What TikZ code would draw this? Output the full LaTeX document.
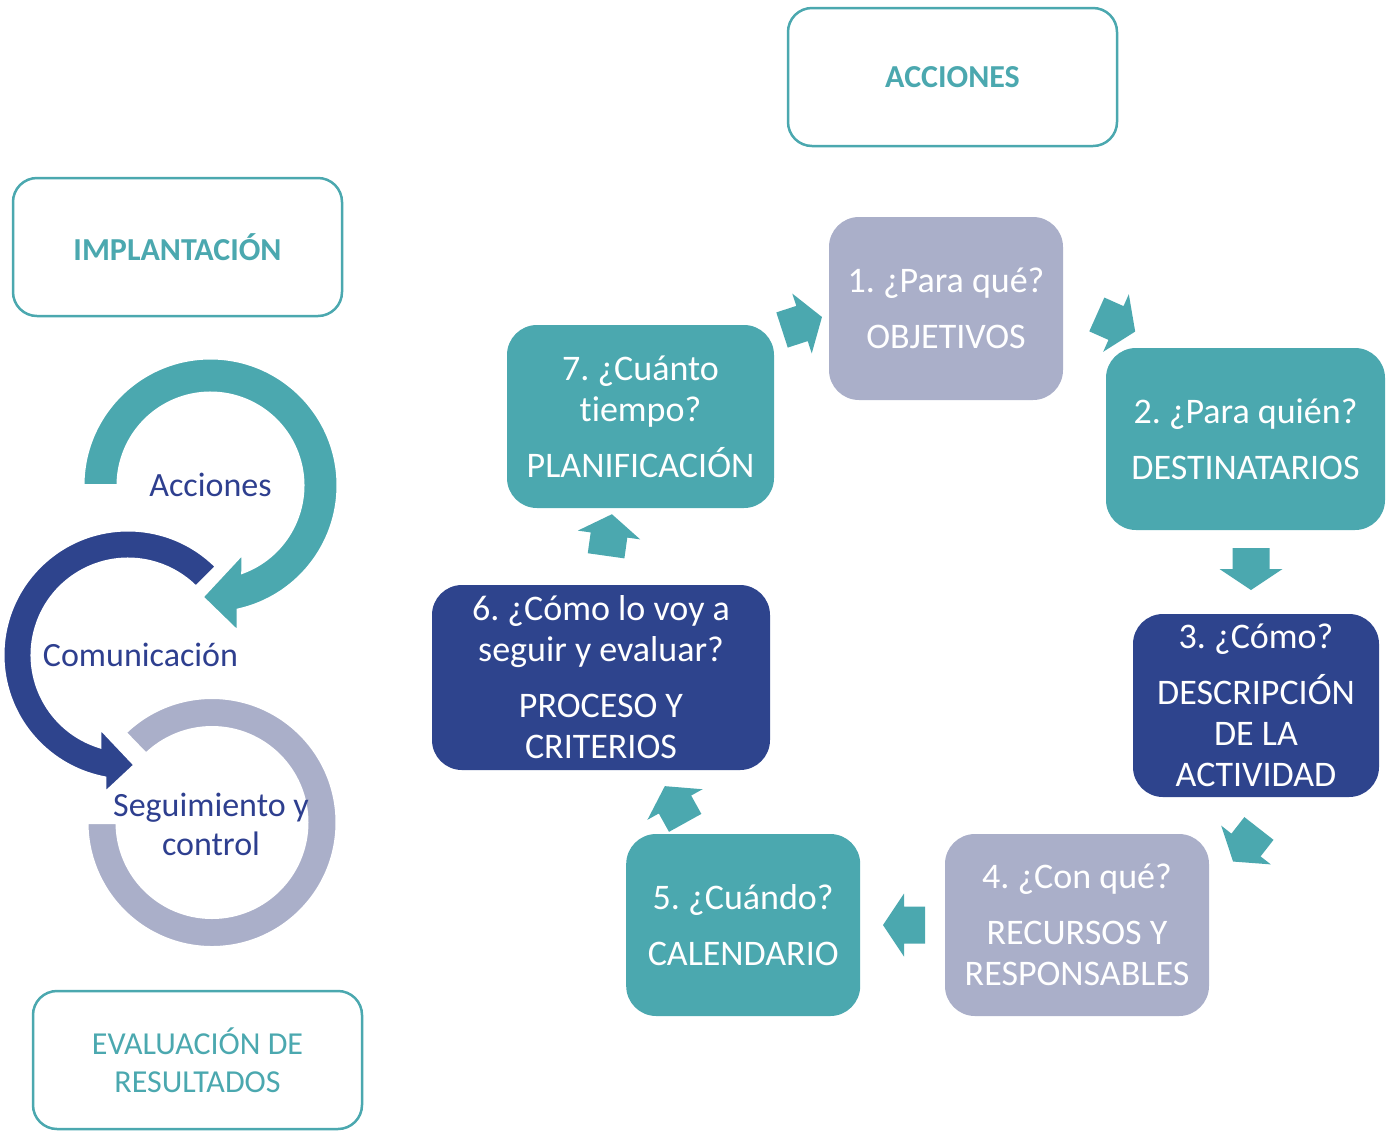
\documentclass[tikz,border=0pt]{standalone}
\usepackage{fontspec}
\setmainfont{Carlito}[Ligatures=NoCommon]
\usetikzlibrary{positioning}
\frenchspacing

\definecolor{tealc}{HTML}{4BA8AF}
\definecolor{lavc}{HTML}{AAAFC9}
\definecolor{navyc}{HTML}{2E448D}
\definecolor{labc}{HTML}{2E3F8F}

\begin{document}
\begin{tikzpicture}
            [x=0.5pt, y=0.5pt,
            procbox/.style={
                rounded corners=15pt,
                align=center,
                text=white,
                inner sep=0pt,
                font=\fontsize{18}{20.5}\selectfont
            },
            tealbox/.style={procbox, fill=tealc},
            lavbox/.style={procbox, fill=lavc},
            navybox/.style={procbox, fill=navyc},
            headbox/.style={
                draw=tealc,
                line width=1.25pt,
                rounded corners=12pt,
                text=tealc,
                align=center,
                minimum width=164.5pt,
                minimum height=69pt,
                font=\fontsize{16}{19}\selectfont
            },
            ring/.style={draw=white, line width=1.5pt},
            ringlabel/.style={text=labc, align=center, font=\fontsize{17}{19.5}\selectfont},
            blockarrow/.pic={
                \fill[tealc] (-21,-18.5) -- (0,-18.5) -- (0,-31.5) -- (21,0)
                    -- (0,31.5) -- (0,18.5) -- (-21,18.5) -- cycle;
            }
            ]
            \useasboundingbox (0,0) rectangle (1393,-1131);

            % Header boxes
            \node[headbox, font=\fontsize{16}{19}\selectfont\bfseries] (acciones) at (952.5,-77) {ACCIONES};
            \node[headbox, font=\fontsize{16}{19}\selectfont\bfseries] (implant) at (177.5,-247) {IMPLANTACIÓN};
            \node[headbox] (evalres) at (197.5,-1060) {EVALUACIÓN DE\\RESULTADOS};

            % Cycle of questions
            \node[lavbox, minimum width=117pt, minimum height=91.5pt] (obj) at (946,-308.5)
                {1. ¿Para qué?\\[7.5pt]OBJETIVOS};
            \node[tealbox, minimum width=139.5pt, minimum height=91pt] (dest) at (1245.5,-439)
                {2. ¿Para quién?\\[7.5pt]DESTINATARIOS};
            \node[navybox, minimum width=123pt, minimum height=91.5pt] (desc) at (1256,-705.5)
                {3. ¿Cómo?\\[7.5pt]DESCRIPCIÓN\\DE LA\\ACTIVIDAD};
            \node[lavbox, minimum width=132pt, minimum height=91pt] (recur) at (1077,-925)
                {4. ¿Con qué?\\[7.5pt]RECURSOS Y\\RESPONSABLES};
            \node[tealbox, minimum width=117pt, minimum height=91pt, left=42pt of recur] (calen)
                {5. ¿Cuándo?\\[7.5pt]CALENDARIO};
            \node[navybox, minimum width=169pt, minimum height=92.5pt] (proc) at (601,-677.5)
                {6. ¿Cómo lo voy a\\seguir y evaluar?\\[7.5pt]PROCESO Y\\CRITERIOS};
            \node[tealbox, minimum width=133.5pt, minimum height=91.5pt] (plan) at (640.5,-416.5)
                {7. ¿Cuánto\\tiempo?\\[7.5pt]PLANIFICACIÓN};

            % Block arrows between the boxes
            \foreach \x/\y/\ang in {802/-323.5/18, 1116/-323/-24, 1251/-569/-90, 1246/-845/232,
                                    904/-925/180, 675/-804.5/119, 609/-535/82}{
                \pic[rotate=\ang] at (\x,\y) {blockarrow};
            }

            % Circular arrows
            \coordinate (cseg) at (212,-822.5);
            \coordinate (ccom) at (128,-655);
            \coordinate (cacc) at (210.5,-485.5);

            \filldraw[ring, fill=lavc] ([shift={(cseg)}]134:125) arc[start angle=134, end angle=-180, radius=125]
                -- ([shift={(cseg)}]180:95) arc[start angle=-180, end angle=134, radius=95] -- cycle;
            \filldraw[ring, fill=navyc] ([shift={(ccom)}]45:125) arc[start angle=45, end angle=259.3, radius=125]
                -- (105,-793) -- (135,-765) -- (100,-728)
                -- ([shift={(ccom)}]253:96) arc[start angle=253, end angle=45, radius=96] -- cycle;
            \filldraw[ring, fill=tealc] ([shift={(cacc)}]180:127.5) arc[start angle=180, end angle=-77.5, radius=127.5]
                -- (238,-632) -- (202,-597) -- (243,-553)
                -- ([shift={(cacc)}]-69.6:92.5) arc[start angle=-69.6, end angle=180, radius=92.5] -- cycle;

            \node[ringlabel] (lblacc) at (210.5,-485) {Acciones};
            \node[ringlabel] (lblcom) at (140.5,-655) {Comunicación};
            \node[ringlabel] (lblseg) at (211,-824) {Seguimiento y\\control};
\end{tikzpicture}
\end{document}
